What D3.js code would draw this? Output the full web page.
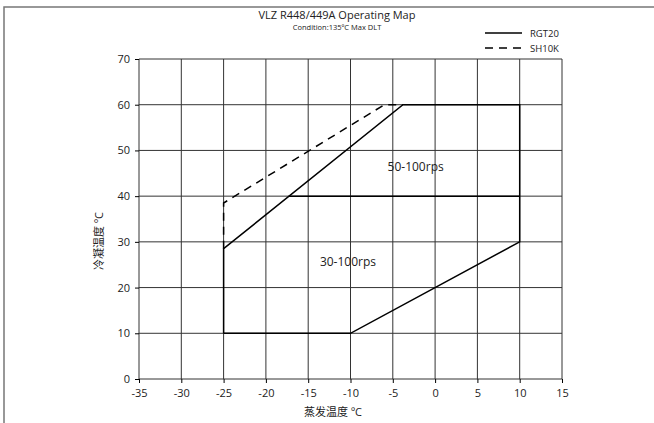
<!DOCTYPE html>
<html>
<head>
<meta charset="utf-8">
<script src="https://cdn.jsdelivr.net/npm/d3@7"></script>
<style>
  body { margin: 0; background: #fff; }
  text { font-family: "Open Sans", "Noto Sans", "Noto Sans CJK SC", sans-serif; fill: #222; }
</style>
</head>
<body>
<div id="chart"></div>
<script>
  var xTicks = [-35, -30, -25, -20, -15, -10, -5, 0, 5, 10, 15];
  var yTicks = [0, 10, 20, 30, 40, 50, 60, 70];

  // RGT20 envelope (evap, cond)
  var rgt20 = [[-25, 10], [-10, 10], [10, 30], [10, 60], [-3.8, 60], [-25, 28.5], [-25, 10]];
  // speed boundary at 40 degC
  var split40 = [[-17.3, 40], [10, 40]];
  // SH10K limit
  var sh10k = [[-25, 28.5], [-25, 38.5], [-6, 60], [-3.8, 60]];

  var zoneLabels = ['50-100rps', '30-100rps'];
  var zonePos = [[-2.3, 45.5], [-10.3, 24.8]];

  var W = 654, H = 423;
  var svg = d3.select('#chart').append('svg').attr('width', W).attr('height', H);

  // outer frame (left + top only)
  svg.append('path')
    .attr('d', 'M4,423 L4,7 L654,7')
    .attr('fill', 'none').attr('stroke', '#777').attr('stroke-width', 1.5);

  var x = d3.scaleLinear().domain([-35, 15]).range([139, 562]);
  var y = d3.scaleLinear().domain([0, 70]).range([379, 59]);

  var grid = svg.append('g');
  grid.selectAll('line.v').data(xTicks).join('line')
    .attr('x1', d => x(d)).attr('x2', d => x(d))
    .attr('y1', y(0)).attr('y2', y(70))
    .attr('stroke', '#333').attr('stroke-width', 1);
  grid.selectAll('line.h').data(yTicks).join('line')
    .attr('x1', x(-35)).attr('x2', x(15))
    .attr('y1', d => y(d)).attr('y2', d => y(d))
    .attr('stroke', '#333').attr('stroke-width', 1);

  var xAxis = d3.axisBottom(x).tickValues(xTicks).tickFormat(d => String(d)).tickSize(4).tickPadding(6);
  var gx = svg.append('g').attr('transform', `translate(0,${y(0)})`).call(xAxis);
  gx.select('.domain').remove();
  gx.selectAll('text').style('font-size', '11px');

  var yAxis = d3.axisLeft(y).tickValues(yTicks).tickFormat(d => String(d)).tickSize(4).tickPadding(5);
  var gy = svg.append('g').attr('transform', `translate(${x(-35)},0)`).call(yAxis);
  gy.select('.domain').remove();
  gy.selectAll('text').style('font-size', '11px');

  var line = d3.line().x(d => x(d[0])).y(d => y(d[1]));

  svg.append('path').datum(rgt20).attr('d', line)
    .attr('fill', 'none').attr('stroke', '#000').attr('stroke-width', 1.5);
  svg.append('path').datum(split40).attr('d', line)
    .attr('fill', 'none').attr('stroke', '#000').attr('stroke-width', 1.5);
  svg.append('path').datum(sh10k).attr('d', line)
    .attr('fill', 'none').attr('stroke', '#000').attr('stroke-width', 1.5)
    .attr('stroke-dasharray', '8,6');

  svg.selectAll('text.zone').data(zoneLabels).join('text')
    .attr('class', 'zone')
    .attr('x', (d, i) => x(zonePos[i][0]))
    .attr('y', (d, i) => y(zonePos[i][1]))
    .attr('text-anchor', 'middle')
    .style('font-size', '12px')
    .text(d => d);

  // titles
  svg.append('text').attr('x', 337).attr('y', 19).attr('text-anchor', 'middle')
    .style('font-size', '11px').text('VLZ R448/449A Operating Map');
  svg.append('text').attr('x', 337).attr('y', 30).attr('text-anchor', 'middle')
    .style('font-size', '7.5px').text('Condition:135ºC  Max DLT');

  // axis titles
  svg.append('text').attr('x', 333).attr('y', 416).attr('text-anchor', 'middle')
    .style('font-size', '11px').text('蒸发温度 ºC');
  svg.append('text').attr('transform', 'translate(103,241) rotate(-90)')
    .attr('text-anchor', 'middle')
    .style('font-size', '11px').text('冷凝温度 ºC');

  // legend
  var legendNames = ['RGT20', 'SH10K'];
  var legendDash = [null, '8,6'];
  var lg = svg.append('g').selectAll('g').data(legendNames).join('g')
    .attr('transform', (d, i) => `translate(485,${33 + i * 15})`);
  lg.append('line').attr('x1', 0).attr('x2', 37)
    .attr('stroke', '#000').attr('stroke-width', 1.5)
    .attr('stroke-dasharray', (d, i) => legendDash[i]);
  lg.append('text').attr('x', 45).attr('y', 4)
    .style('font-size', '9.5px').text(d => d);
</script>
</body>
</html>
